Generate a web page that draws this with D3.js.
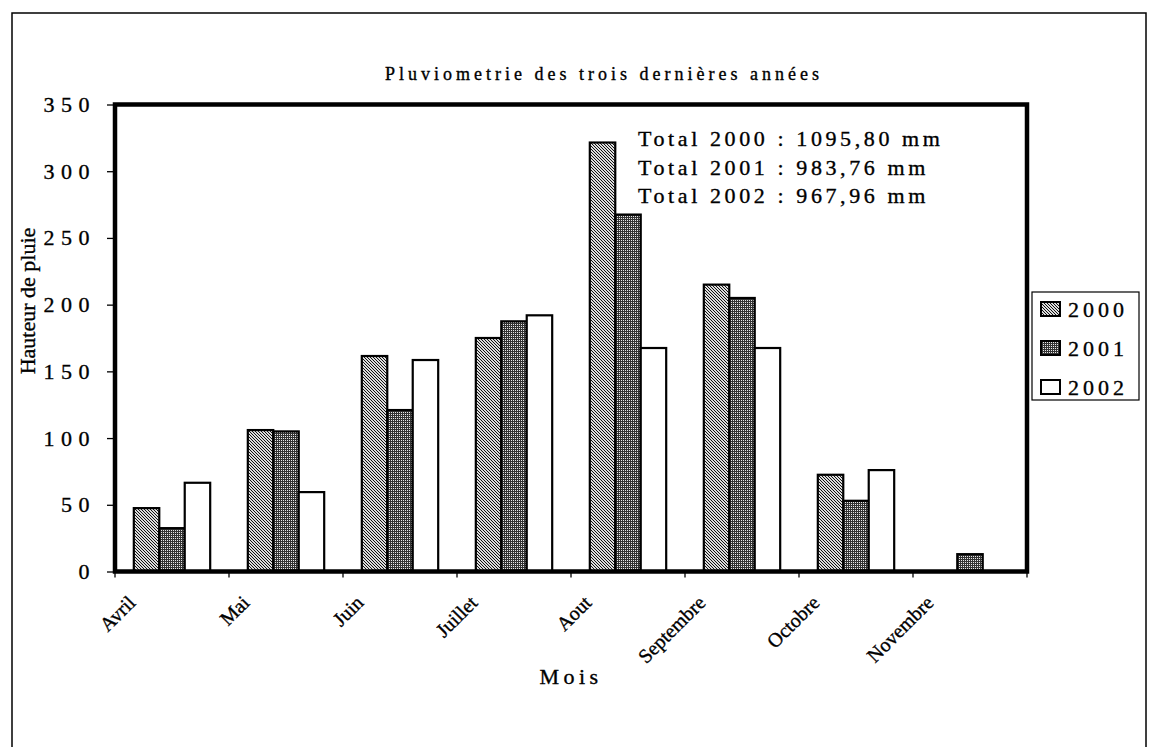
<!DOCTYPE html>
<html>
<head>
<meta charset="utf-8">
<script src="https://cdn.jsdelivr.net/npm/d3@7"></script>
<style>
  html, body { margin: 0; padding: 0; background: #fff; }
  svg { display: block; }
  text { font-family: "Liberation Serif", "Times New Roman", serif; fill: #000; stroke: #000; stroke-width: 0.35px; }
</style>
</head>
<body>
<svg id="chart" width="1154" height="747"></svg>
<script>
// ---- data ----
const months = ["Avril", "Mai", "Juin", "Juillet", "Aout", "Septembre", "Octobre", "Novembre"];
const years = ["2000", "2001", "2002"];
const v2000 = [47.5, 106, 161.5, 175, 321.5, 215, 72.5, 0];
const v2001 = [32.5, 105, 121, 187.5, 267.5, 205, 53, 13];
const v2002 = [66.5, 59.5, 158.5, 192, 167.5, 167.5, 76, 0];
const yTicks = [0, 50, 100, 150, 200, 250, 300, 350];
const totals = ["Total 2000 : 1095,80 mm", "Total 2001 : 983,76 mm", "Total 2002 : 967,96 mm"];
const title = "Pluviometrie des trois dernières années";
const yTitle = "Hauteur de pluie";
const xTitle = "Mois";

const series = { "2000": v2000, "2001": v2001, "2002": v2002 };
const rows = months.map((m, i) => ({ month: m, values: years.map(y => ({ year: y, value: series[y][i] })) }));

const svg = d3.select("#chart");

// ---- patterns ----
const defs = svg.append("defs");
const p0 = defs.append("pattern").attr("id", "pat2000").attr("patternUnits", "userSpaceOnUse")
  .attr("width", 3).attr("height", 3);
p0.append("rect").attr("width", 3).attr("height", 3).attr("fill", "#dcdcdc");
[[0, 0], [1, 1], [2, 2]].forEach(([a, b]) => p0.append("rect").attr("x", a).attr("y", b).attr("width", 1).attr("height", 1).attr("fill", "#111"));
const p1 = defs.append("pattern").attr("id", "pat2001").attr("patternUnits", "userSpaceOnUse")
  .attr("width", 2).attr("height", 2);
p1.append("rect").attr("width", 2).attr("height", 2).attr("fill", "#333");
p1.append("rect").attr("x", 0).attr("y", 0).attr("width", 1).attr("height", 1).attr("fill", "#e8e8e8");
const fills = { "2000": "url(#pat2000)", "2001": "url(#pat2001)", "2002": "#fff" };

// ---- outer frame ----
svg.append("rect").attr("x", 12).attr("y", 13).attr("width", 1134).attr("height", 760)
  .attr("fill", "none").attr("stroke", "#000").attr("stroke-width", 1.5);

// ---- scales ----
const plot = { left: 115, right: 1027, top: 104.5, bottom: 571.5 };
const x = d3.scaleBand().domain(months).range([plot.left, plot.right]).paddingInner(0).paddingOuter(0);
const bw = x.bandwidth();
const x1 = d3.scaleBand().domain(years).range([bw * 0.165, bw * 0.835]).padding(0);
const y = d3.scaleLinear().domain([0, 350]).range([plot.bottom, plot.top]);

// ---- title ----
svg.append("text").attr("x", 604).attr("y", 80).attr("text-anchor", "middle")
  .attr("font-size", 18).attr("letter-spacing", 4).text(title);

// ---- bars ----
const g = svg.append("g");
g.selectAll("g.grp").data(rows).join("g").attr("class", "grp")
  .attr("transform", d => `translate(${x(d.month)},0)`)
  .selectAll("rect").data(d => d.values.filter(v => v.value > 0)).join("rect")
  .attr("x", d => x1(d.year)).attr("width", x1.bandwidth())
  .attr("y", d => y(d.value)).attr("height", d => y(0) - y(d.value))
  .attr("fill", d => fills[d.year]).attr("stroke", "#000").attr("stroke-width", 2.2);

// ---- plot border ----
svg.append("rect").attr("x", plot.left).attr("y", plot.top)
  .attr("width", plot.right - plot.left).attr("height", plot.bottom - plot.top)
  .attr("fill", "none").attr("stroke", "#000").attr("stroke-width", 4.5);

// ---- y axis ----
const yAxis = d3.axisLeft(y).tickValues(yTicks).tickSize(6).tickPadding(11).tickFormat(d3.format("d"));
const gy = svg.append("g").attr("transform", `translate(${plot.left - 2},0)`).call(yAxis);
gy.select(".domain").remove();
gy.selectAll(".tick line").attr("stroke", "#000").attr("stroke-width", 1.3);
gy.selectAll(".tick text").attr("font-family", "Liberation Serif").attr("font-size", 22)
  .attr("letter-spacing", 6.5).attr("fill", "#000");

// ---- x ticks at band boundaries ----
const bounds = months.map(m => x(m)).concat([x.range()[1]]);
svg.append("g").selectAll("line").data(bounds).join("line")
  .attr("x1", d => d).attr("x2", d => d).attr("y1", plot.bottom).attr("y2", plot.bottom + 6)
  .attr("stroke", "#000").attr("stroke-width", 1.3);

// ---- x labels ----
svg.append("g").selectAll("text").data(months).join("text")
  .attr("transform", d => `translate(${x(d) + bw * 0.19},${604}) rotate(-45)`)
  .attr("text-anchor", "end").attr("font-size", 20).attr("stroke-width", 0.2).text(d => d);

// ---- axis titles ----
svg.append("text").attr("transform", `translate(35,301) rotate(-90)`).attr("text-anchor", "middle")
  .attr("font-size", 22).attr("stroke-width", 0.2).text(yTitle);
svg.append("text").attr("x", 571).attr("y", 684).attr("text-anchor", "middle")
  .attr("font-size", 22).attr("letter-spacing", 4.5).text(xTitle);

// ---- totals annotation ----
svg.append("g").selectAll("text").data(totals).join("text")
  .attr("x", 638).attr("y", (d, i) => 146 + i * 28.5)
  .attr("font-size", 22).attr("letter-spacing", 3.6).text(d => d);

// ---- legend ----
const lg = svg.append("g");
lg.append("rect").attr("x", 1032).attr("y", 292).attr("width", 107).attr("height", 108)
  .attr("fill", "#fff").attr("stroke", "#000").attr("stroke-width", 1.2);
const li = lg.selectAll("g.item").data(years).join("g").attr("class", "item")
  .attr("transform", (d, i) => `translate(1041,${309 + i * 39})`);
li.append("rect").attr("x", 0).attr("y", -7).attr("width", 19).attr("height", 14)
  .attr("fill", d => fills[d]).attr("stroke", "#000").attr("stroke-width", 2);
li.append("text").attr("x", 27).attr("y", 8).attr("font-size", 22).attr("letter-spacing", 4).text(d => d);
</script>
</body>
</html>
